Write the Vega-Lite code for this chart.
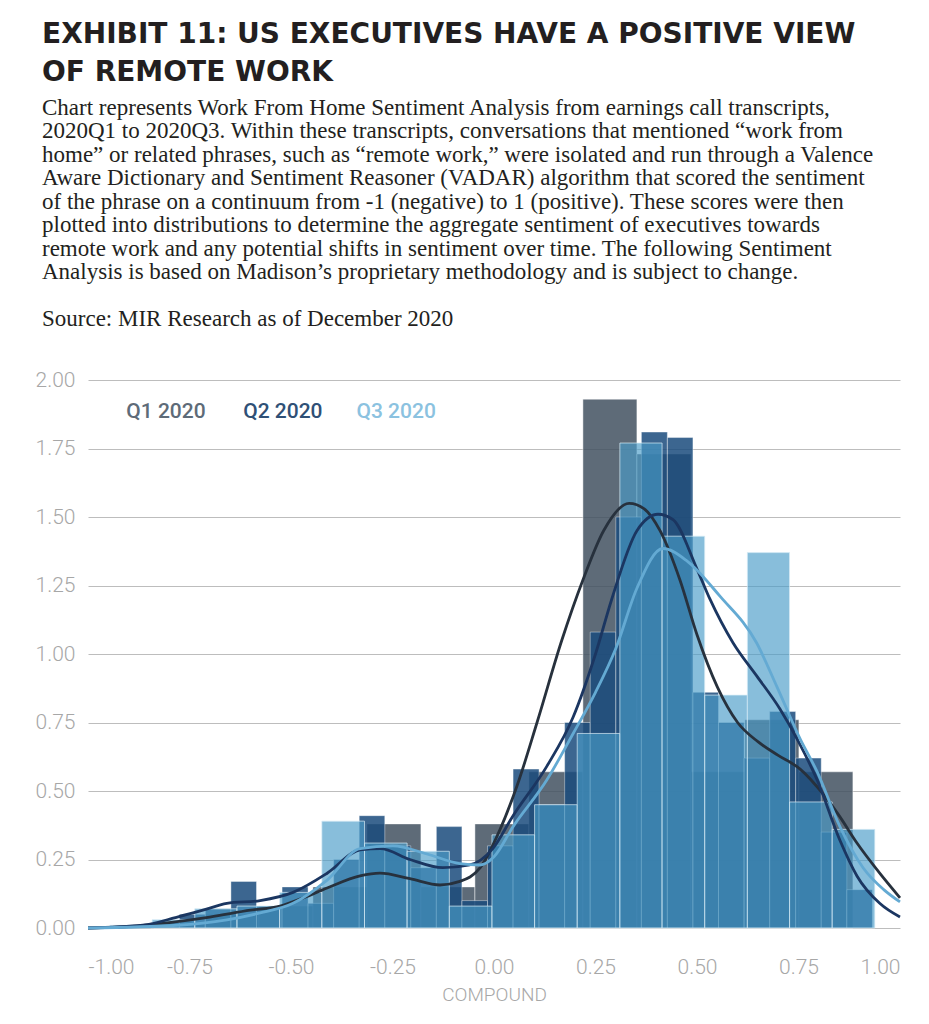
{
  "$schema": "https://vega.github.io/schema/vega-lite/v6.json",
  "width": 812,
  "height": 548,
  "autosize": {"type": "none"},
  "padding": {"left": 88, "top": 380, "right": 29, "bottom": 96},
  "background": "white",
  "title": {
    "text": ["EXHIBIT 11: US EXECUTIVES HAVE A POSITIVE VIEW", "OF REMOTE WORK"],
    "subtitle": [
      "Chart represents Work From Home Sentiment Analysis from earnings call transcripts,",
      "2020Q1 to 2020Q3. Within these transcripts, conversations that mentioned “work from",
      "home” or related phrases, such as “remote work,” were isolated and run through a Valence",
      "Aware Dictionary and Sentiment Reasoner (VADAR) algorithm that scored the sentiment",
      "of the phrase on a continuum from -1 (negative) to 1 (positive). These scores were then",
      "plotted into distributions to determine the aggregate sentiment of executives towards",
      "remote work and any potential shifts in sentiment over time. The following Sentiment",
      "Analysis is based on Madison’s proprietary methodology and is subject to change.",
      "\u2800",
      "Source: MIR Research as of December 2020"
    ],
    "anchor": "start",
    "frame": "group",
    "dx": -46,
    "font": "DejaVu Sans",
    "fontSize": 28,
    "fontWeight": "bold",
    "color": "#231f20",
    "lineHeight": 38,
    "subtitleFont": "Liberation Serif",
    "subtitleFontSize": 23,
    "subtitleColor": "#231f20",
    "subtitleLineHeight": 23.5,
    "subtitlePadding": 10,
    "offset": 38
  },
  "datasets": {
    "bars": [
      {"q": "Q1 2020", "x0": -0.845, "x1": -0.712, "h": 0.02},
      {"q": "Q1 2020", "x0": -0.712, "x1": -0.579, "h": 0.05},
      {"q": "Q1 2020", "x0": -0.579, "x1": -0.446, "h": 0.08},
      {"q": "Q1 2020", "x0": -0.446, "x1": -0.313, "h": 0.15},
      {"q": "Q1 2020", "x0": -0.313, "x1": -0.180, "h": 0.38},
      {"q": "Q1 2020", "x0": -0.180, "x1": -0.047, "h": 0.15},
      {"q": "Q1 2020", "x0": -0.047, "x1": 0.086, "h": 0.38},
      {"q": "Q1 2020", "x0": 0.086, "x1": 0.219, "h": 0.57},
      {"q": "Q1 2020", "x0": 0.219, "x1": 0.352, "h": 1.93},
      {"q": "Q1 2020", "x0": 0.352, "x1": 0.485, "h": 1.73},
      {"q": "Q1 2020", "x0": 0.485, "x1": 0.618, "h": 0.57},
      {"q": "Q1 2020", "x0": 0.618, "x1": 0.751, "h": 0.76},
      {"q": "Q1 2020", "x0": 0.751, "x1": 0.884, "h": 0.57},
      {"q": "Q2 2020", "x0": -0.838, "x1": -0.775, "h": 0.02},
      {"q": "Q2 2020", "x0": -0.775, "x1": -0.711, "h": 0.05},
      {"q": "Q2 2020", "x0": -0.711, "x1": -0.648, "h": 0.07},
      {"q": "Q2 2020", "x0": -0.648, "x1": -0.585, "h": 0.17},
      {"q": "Q2 2020", "x0": -0.585, "x1": -0.522, "h": 0.08},
      {"q": "Q2 2020", "x0": -0.522, "x1": -0.458, "h": 0.15},
      {"q": "Q2 2020", "x0": -0.458, "x1": -0.395, "h": 0.09},
      {"q": "Q2 2020", "x0": -0.395, "x1": -0.332, "h": 0.25},
      {"q": "Q2 2020", "x0": -0.332, "x1": -0.269, "h": 0.41},
      {"q": "Q2 2020", "x0": -0.269, "x1": -0.205, "h": 0.30},
      {"q": "Q2 2020", "x0": -0.205, "x1": -0.142, "h": 0.22},
      {"q": "Q2 2020", "x0": -0.142, "x1": -0.079, "h": 0.37},
      {"q": "Q2 2020", "x0": -0.079, "x1": -0.016, "h": 0.10},
      {"q": "Q2 2020", "x0": -0.016, "x1": 0.047, "h": 0.30},
      {"q": "Q2 2020", "x0": 0.047, "x1": 0.111, "h": 0.58},
      {"q": "Q2 2020", "x0": 0.111, "x1": 0.174, "h": 0.45},
      {"q": "Q2 2020", "x0": 0.174, "x1": 0.237, "h": 0.75},
      {"q": "Q2 2020", "x0": 0.237, "x1": 0.300, "h": 1.08},
      {"q": "Q2 2020", "x0": 0.300, "x1": 0.363, "h": 1.50},
      {"q": "Q2 2020", "x0": 0.363, "x1": 0.427, "h": 1.81},
      {"q": "Q2 2020", "x0": 0.427, "x1": 0.490, "h": 1.79},
      {"q": "Q2 2020", "x0": 0.490, "x1": 0.553, "h": 0.86},
      {"q": "Q2 2020", "x0": 0.553, "x1": 0.616, "h": 0.75},
      {"q": "Q2 2020", "x0": 0.616, "x1": 0.679, "h": 0.62},
      {"q": "Q2 2020", "x0": 0.679, "x1": 0.743, "h": 0.79},
      {"q": "Q2 2020", "x0": 0.743, "x1": 0.806, "h": 0.62},
      {"q": "Q2 2020", "x0": 0.806, "x1": 0.869, "h": 0.35},
      {"q": "Q2 2020", "x0": 0.869, "x1": 0.932, "h": 0.14},
      {"q": "Q3 2020", "x0": -0.946, "x1": -0.842, "h": 0.01},
      {"q": "Q3 2020", "x0": -0.842, "x1": -0.737, "h": 0.03},
      {"q": "Q3 2020", "x0": -0.737, "x1": -0.633, "h": 0.07},
      {"q": "Q3 2020", "x0": -0.633, "x1": -0.528, "h": 0.08},
      {"q": "Q3 2020", "x0": -0.528, "x1": -0.424, "h": 0.13},
      {"q": "Q3 2020", "x0": -0.424, "x1": -0.319, "h": 0.39},
      {"q": "Q3 2020", "x0": -0.319, "x1": -0.214, "h": 0.31},
      {"q": "Q3 2020", "x0": -0.214, "x1": -0.110, "h": 0.28},
      {"q": "Q3 2020", "x0": -0.110, "x1": -0.005, "h": 0.08},
      {"q": "Q3 2020", "x0": -0.005, "x1": 0.100, "h": 0.34},
      {"q": "Q3 2020", "x0": 0.100, "x1": 0.205, "h": 0.45},
      {"q": "Q3 2020", "x0": 0.205, "x1": 0.310, "h": 0.71},
      {"q": "Q3 2020", "x0": 0.310, "x1": 0.414, "h": 1.77},
      {"q": "Q3 2020", "x0": 0.414, "x1": 0.519, "h": 1.43},
      {"q": "Q3 2020", "x0": 0.519, "x1": 0.624, "h": 0.85},
      {"q": "Q3 2020", "x0": 0.624, "x1": 0.728, "h": 1.37},
      {"q": "Q3 2020", "x0": 0.728, "x1": 0.833, "h": 0.46},
      {"q": "Q3 2020", "x0": 0.833, "x1": 0.938, "h": 0.36}
    ],
    "kde": [
      {"q": "Q1 2020", "x": -1.0, "y": 0.0},
      {"q": "Q1 2020", "x": -0.9, "y": 0.005},
      {"q": "Q1 2020", "x": -0.8, "y": 0.02},
      {"q": "Q1 2020", "x": -0.7, "y": 0.04},
      {"q": "Q1 2020", "x": -0.6, "y": 0.065},
      {"q": "Q1 2020", "x": -0.527, "y": 0.08},
      {"q": "Q1 2020", "x": -0.47, "y": 0.11},
      {"q": "Q1 2020", "x": -0.411, "y": 0.146},
      {"q": "Q1 2020", "x": -0.33, "y": 0.19},
      {"q": "Q1 2020", "x": -0.281, "y": 0.20},
      {"q": "Q1 2020", "x": -0.207, "y": 0.18},
      {"q": "Q1 2020", "x": -0.133, "y": 0.157},
      {"q": "Q1 2020", "x": -0.084, "y": 0.17},
      {"q": "Q1 2020", "x": -0.034, "y": 0.22},
      {"q": "Q1 2020", "x": 0.015, "y": 0.36},
      {"q": "Q1 2020", "x": 0.057, "y": 0.52},
      {"q": "Q1 2020", "x": 0.106, "y": 0.75},
      {"q": "Q1 2020", "x": 0.167, "y": 1.05},
      {"q": "Q1 2020", "x": 0.219, "y": 1.27},
      {"q": "Q1 2020", "x": 0.27, "y": 1.45},
      {"q": "Q1 2020", "x": 0.333, "y": 1.55},
      {"q": "Q1 2020", "x": 0.37, "y": 1.53},
      {"q": "Q1 2020", "x": 0.409, "y": 1.45},
      {"q": "Q1 2020", "x": 0.458, "y": 1.27},
      {"q": "Q1 2020", "x": 0.5, "y": 1.07},
      {"q": "Q1 2020", "x": 0.55, "y": 0.88},
      {"q": "Q1 2020", "x": 0.6, "y": 0.75},
      {"q": "Q1 2020", "x": 0.65, "y": 0.68},
      {"q": "Q1 2020", "x": 0.7, "y": 0.63},
      {"q": "Q1 2020", "x": 0.754, "y": 0.58},
      {"q": "Q1 2020", "x": 0.81, "y": 0.49},
      {"q": "Q1 2020", "x": 0.85, "y": 0.41},
      {"q": "Q1 2020", "x": 0.894, "y": 0.31},
      {"q": "Q1 2020", "x": 0.95, "y": 0.2},
      {"q": "Q1 2020", "x": 1.0, "y": 0.11},
      {"q": "Q2 2020", "x": -1.0, "y": 0.0},
      {"q": "Q2 2020", "x": -0.865, "y": 0.01},
      {"q": "Q2 2020", "x": -0.78, "y": 0.04},
      {"q": "Q2 2020", "x": -0.717, "y": 0.065},
      {"q": "Q2 2020", "x": -0.658, "y": 0.09},
      {"q": "Q2 2020", "x": -0.576, "y": 0.10},
      {"q": "Q2 2020", "x": -0.495, "y": 0.13},
      {"q": "Q2 2020", "x": -0.411, "y": 0.20},
      {"q": "Q2 2020", "x": -0.33, "y": 0.285},
      {"q": "Q2 2020", "x": -0.28, "y": 0.29},
      {"q": "Q2 2020", "x": -0.207, "y": 0.25},
      {"q": "Q2 2020", "x": -0.126, "y": 0.22},
      {"q": "Q2 2020", "x": -0.06, "y": 0.23},
      {"q": "Q2 2020", "x": -0.003, "y": 0.29},
      {"q": "Q2 2020", "x": 0.047, "y": 0.41},
      {"q": "Q2 2020", "x": 0.13, "y": 0.59},
      {"q": "Q2 2020", "x": 0.195, "y": 0.77},
      {"q": "Q2 2020", "x": 0.25, "y": 1.0},
      {"q": "Q2 2020", "x": 0.29, "y": 1.2},
      {"q": "Q2 2020", "x": 0.352, "y": 1.45},
      {"q": "Q2 2020", "x": 0.404, "y": 1.51},
      {"q": "Q2 2020", "x": 0.441, "y": 1.49},
      {"q": "Q2 2020", "x": 0.5, "y": 1.31},
      {"q": "Q2 2020", "x": 0.532, "y": 1.20},
      {"q": "Q2 2020", "x": 0.589, "y": 1.04},
      {"q": "Q2 2020", "x": 0.647, "y": 0.92},
      {"q": "Q2 2020", "x": 0.704, "y": 0.80},
      {"q": "Q2 2020", "x": 0.75, "y": 0.68},
      {"q": "Q2 2020", "x": 0.796, "y": 0.54},
      {"q": "Q2 2020", "x": 0.852, "y": 0.32},
      {"q": "Q2 2020", "x": 0.894, "y": 0.19},
      {"q": "Q2 2020", "x": 0.95, "y": 0.09},
      {"q": "Q2 2020", "x": 1.0, "y": 0.04},
      {"q": "Q3 2020", "x": -1.0, "y": 0.0},
      {"q": "Q3 2020", "x": -0.78, "y": 0.01},
      {"q": "Q3 2020", "x": -0.658, "y": 0.03},
      {"q": "Q3 2020", "x": -0.576, "y": 0.055},
      {"q": "Q3 2020", "x": -0.495, "y": 0.09},
      {"q": "Q3 2020", "x": -0.411, "y": 0.175},
      {"q": "Q3 2020", "x": -0.33, "y": 0.29},
      {"q": "Q3 2020", "x": -0.249, "y": 0.30},
      {"q": "Q3 2020", "x": -0.165, "y": 0.27},
      {"q": "Q3 2020", "x": -0.084, "y": 0.235},
      {"q": "Q3 2020", "x": -0.034, "y": 0.23},
      {"q": "Q3 2020", "x": 0.0, "y": 0.26},
      {"q": "Q3 2020", "x": 0.047, "y": 0.37},
      {"q": "Q3 2020", "x": 0.13, "y": 0.54},
      {"q": "Q3 2020", "x": 0.195, "y": 0.71},
      {"q": "Q3 2020", "x": 0.25, "y": 0.86},
      {"q": "Q3 2020", "x": 0.3, "y": 1.02},
      {"q": "Q3 2020", "x": 0.352, "y": 1.24},
      {"q": "Q3 2020", "x": 0.416, "y": 1.385},
      {"q": "Q3 2020", "x": 0.475, "y": 1.34},
      {"q": "Q3 2020", "x": 0.557, "y": 1.21},
      {"q": "Q3 2020", "x": 0.647, "y": 1.04},
      {"q": "Q3 2020", "x": 0.697, "y": 0.88},
      {"q": "Q3 2020", "x": 0.754, "y": 0.69},
      {"q": "Q3 2020", "x": 0.796, "y": 0.57},
      {"q": "Q3 2020", "x": 0.852, "y": 0.37},
      {"q": "Q3 2020", "x": 0.909, "y": 0.22},
      {"q": "Q3 2020", "x": 0.96, "y": 0.14},
      {"q": "Q3 2020", "x": 1.0, "y": 0.095}
    ],
    "legend": [
      {"q": "Q1 2020", "x": -0.808, "y": 1.883},
      {"q": "Q2 2020", "x": -0.52, "y": 1.883},
      {"q": "Q3 2020", "x": -0.241, "y": 1.883}
    ]
  },
  "layer": [
    {
      "data": {"name": "bars"},
      "transform": [{"filter": "datum.q === 'Q1 2020'"}],
      "mark": {"type": "rect", "fill": "#425160", "fillOpacity": 0.85, "stroke": "#ffffff", "strokeWidth": 1, "strokeOpacity": 0.45},
      "encoding": {
        "x": {"field": "x0", "type": "quantitative", "scale": {"domain": [-1, 1], "nice": false, "zero": false},
          "axis": {"values": [-1, -0.75, -0.5, -0.25, 0, 0.25, 0.5, 0.75, 1],
            "labelExpr": "(datum.value < 0 ? '-' : '') + format(abs(datum.value), '.2f')",
            "title": "COMPOUND", "grid": false, "domain": false, "ticks": false,
            "labelPadding": 28, "titlePadding": 8}},
        "x2": {"field": "x1"},
        "y": {"field": "h", "type": "quantitative", "scale": {"domain": [0, 2], "nice": false},
          "axis": {"values": [0, 0.25, 0.5, 0.75, 1, 1.25, 1.5, 1.75, 2], "format": ".2f",
            "title": null, "grid": true, "domain": false, "ticks": false, "labelPadding": 13}},
        "y2": {"datum": 0}
      }
    },
    {
      "data": {"name": "bars"},
      "transform": [{"filter": "datum.q === 'Q2 2020'"}],
      "mark": {"type": "rect", "fill": "#1a4b7d", "fillOpacity": 0.85, "stroke": "#ffffff", "strokeWidth": 1, "strokeOpacity": 0.4},
      "encoding": {
        "x": {"field": "x0", "type": "quantitative"},
        "x2": {"field": "x1"},
        "y": {"field": "h", "type": "quantitative"},
        "y2": {"datum": 0}
      }
    },
    {
      "data": {"name": "bars"},
      "transform": [{"filter": "datum.q === 'Q3 2020'"}],
      "mark": {"type": "rect", "fill": "#489bc8", "fillOpacity": 0.65, "stroke": "#d8ecf7", "strokeWidth": 1, "strokeOpacity": 0.7},
      "encoding": {
        "x": {"field": "x0", "type": "quantitative"},
        "x2": {"field": "x1"},
        "y": {"field": "h", "type": "quantitative"},
        "y2": {"datum": 0}
      }
    },
    {
      "data": {"name": "kde"},
      "mark": {"type": "line", "interpolate": "monotone", "strokeWidth": 2.8},
      "encoding": {
        "x": {"field": "x", "type": "quantitative"},
        "y": {"field": "y", "type": "quantitative"},
        "stroke": {"field": "q", "type": "nominal",
          "scale": {"domain": ["Q1 2020", "Q2 2020", "Q3 2020"], "range": ["#27313d", "#1b3661", "#64aad3"]},
          "legend": null}
      }
    },
    {
      "data": {"name": "legend"},
      "mark": {"type": "text", "font": "Roboto", "fontSize": 21, "fontWeight": 500, "align": "center", "baseline": "middle"},
      "encoding": {
        "x": {"field": "x", "type": "quantitative"},
        "y": {"field": "y", "type": "quantitative"},
        "text": {"field": "q"},
        "color": {"field": "q", "type": "nominal",
          "scale": {"domain": ["Q1 2020", "Q2 2020", "Q3 2020"], "range": ["#5e6b78", "#2f5076", "#8bc2e0"]},
          "legend": null}
      }
    }
  ],
  "config": {
    "view": {"stroke": null},
    "axis": {
      "labelFont": "Roboto", "labelFontSize": 21, "labelFontWeight": 300, "labelColor": "#a7a7a7",
      "titleFont": "Roboto", "titleFontSize": 19, "titleFontWeight": 300, "titleColor": "#a7a7a7",
      "gridColor": "#bdbdbd", "gridWidth": 1
    }
  }
}
